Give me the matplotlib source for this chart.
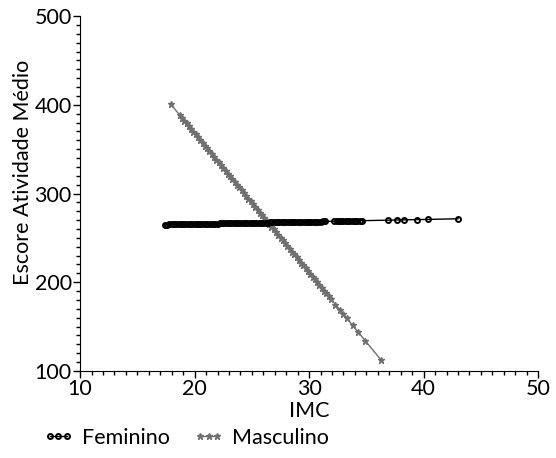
import matplotlib
matplotlib.use('Agg')
import matplotlib.pyplot as plt
from matplotlib.ticker import MultipleLocator

plt.rcParams['font.family'] = ['Lato', 'DejaVu Sans']

# IMC e escore previsto - Feminino
imc_fem = [17.4, 17.6, 17.8, 18.0, 18.2, 18.4, 18.6, 18.8, 19.0, 19.2, 19.4, 19.6,
           19.8, 20.0, 20.2, 20.4, 20.6, 20.8, 21.0, 21.2, 21.4, 21.6, 21.8, 22.0,
           22.2, 22.4, 22.6, 22.8, 23.0, 23.2, 23.4, 23.6, 23.8, 24.0, 24.2, 24.4,
           24.6, 24.8, 25.0, 25.2, 25.4, 25.6, 25.8, 26.0, 26.2, 26.4, 26.6, 26.8,
           27.0, 27.2, 27.4, 27.6, 27.8, 28.0, 28.2, 28.4, 28.6, 28.8, 29.0, 29.2,
           29.4, 29.6, 29.8, 30.0, 30.2, 30.4, 30.6, 30.8, 31.0, 31.2, 31.4,
           32.2, 32.4, 32.6, 32.8, 33.0, 33.2, 33.4, 33.6, 33.8, 34.0, 34.2, 34.4,
           34.6, 36.9, 37.7, 38.3, 39.4, 40.4, 43.0]
escore_fem = [265.00, 265.05, 265.10, 265.15, 265.20, 265.25, 265.30, 265.36, 265.41,
              265.46, 265.51, 265.56, 265.61, 265.66, 265.71, 265.76, 265.81, 265.86,
              265.91, 265.97, 266.02, 266.07, 266.12, 266.17, 266.22, 266.27, 266.32,
              266.37, 266.42, 266.47, 266.52, 266.57, 266.63, 266.68, 266.73, 266.78,
              266.83, 266.88, 266.93, 266.98, 267.03, 267.08, 267.13, 267.18, 267.24,
              267.29, 267.34, 267.39, 267.44, 267.49, 267.54, 267.59, 267.64, 267.69,
              267.74, 267.79, 267.84, 267.90, 267.95, 268.00, 268.05, 268.10, 268.15,
              268.20, 268.25, 268.30, 268.35, 268.40, 268.45, 268.51, 268.56,
              268.76, 268.81, 268.86, 268.91, 268.96, 269.01, 269.06, 269.11, 269.17,
              269.22, 269.27, 269.32, 269.37, 269.95, 270.16, 270.31, 270.59, 270.84,
              271.50]

# IMC e escore previsto - Masculino
imc_masc = [17.9, 18.7, 18.9, 19.1, 19.3, 19.5, 19.7, 19.9, 20.1, 20.3, 20.5, 20.7,
            20.9, 21.1, 21.3, 21.5, 21.7, 21.9, 22.1, 22.3, 22.5, 22.7, 22.9, 23.1,
            23.3, 23.5, 23.7, 23.9, 24.1, 24.3, 24.5, 24.7, 24.9, 25.1, 25.3, 25.5,
            25.7, 25.9, 26.1, 26.3, 26.5, 26.7, 26.9, 27.1, 27.3, 27.5, 27.7, 27.9,
            28.1, 28.3, 28.5, 28.7, 28.9, 29.1, 29.3, 29.5, 29.7, 29.9, 30.1, 30.3,
            30.5, 30.7, 30.9, 31.1, 31.3, 31.5, 31.7, 31.9,
            32.3, 32.7, 33.0, 33.3, 33.8, 34.3, 34.9, 36.3]
escore_masc = [401.0, 388.4, 385.3, 382.2, 379.0, 375.9, 372.7, 369.6, 366.5, 363.3,
               360.2, 357.0, 353.9, 350.8, 347.6, 344.5, 341.3, 338.2, 335.1, 331.9,
               328.8, 325.6, 322.5, 319.4, 316.2, 313.1, 309.9, 306.8, 303.7, 300.5,
               297.4, 294.2, 291.1, 288.0, 284.8, 281.7, 278.5, 275.4, 272.3, 269.1,
               266.0, 262.8, 259.7, 256.6, 253.4, 250.3, 247.1, 244.0, 240.9, 237.7,
               234.6, 231.4, 228.3, 225.2, 222.0, 218.9, 215.7, 212.6, 209.5, 206.3,
               203.2, 200.0, 196.9, 193.8, 190.6, 187.5, 184.3, 181.2,
               174.9, 168.6, 163.9, 159.2, 151.4, 143.5, 134.1, 112.1]

fig = plt.figure(figsize=(5.56, 4.58), dpi=100)
ax = fig.add_axes([0.144, 0.19, 0.824, 0.775])

cinza = '#707070'
ax.plot(imc_masc, escore_masc, color=cinza, lw=1, marker='*', markersize=5,
        markeredgewidth=1.0, label='Masculino')
ax.plot(imc_fem, escore_fem, color='black', lw=1, marker='o', markersize=3.6,
        markerfacecolor='none', markeredgewidth=1.4, label='Feminino')

ax.set_xlim(10, 50)
ax.set_ylim(100, 500)
ax.xaxis.set_major_locator(MultipleLocator(10))
ax.xaxis.set_minor_locator(MultipleLocator(1))
ax.yaxis.set_major_locator(MultipleLocator(100))
ax.yaxis.set_minor_locator(MultipleLocator(10))
ax.tick_params(which='major', direction='out', length=5, width=1, labelsize=15.5, pad=1)
ax.tick_params(which='minor', direction='out', length=3, width=1)
ax.spines['top'].set_visible(False)
ax.spines['right'].set_visible(False)

ax.set_xlabel('IMC', fontsize=15.5, labelpad=1)
ax.set_ylabel('Escore Atividade Médio', fontsize=15.5)
ax.yaxis.set_label_coords(-0.103, 0.56)

handles, labels = ax.get_legend_handles_labels()
fig.legend(handles[::-1], labels[::-1], loc='lower left', bbox_to_anchor=(0.043, -0.02),
           ncol=2, frameon=False, numpoints=3, handlelength=1.4, handletextpad=0.4,
           columnspacing=1.1, fontsize=15.5)

plt.savefig('out.png', dpi=100)
